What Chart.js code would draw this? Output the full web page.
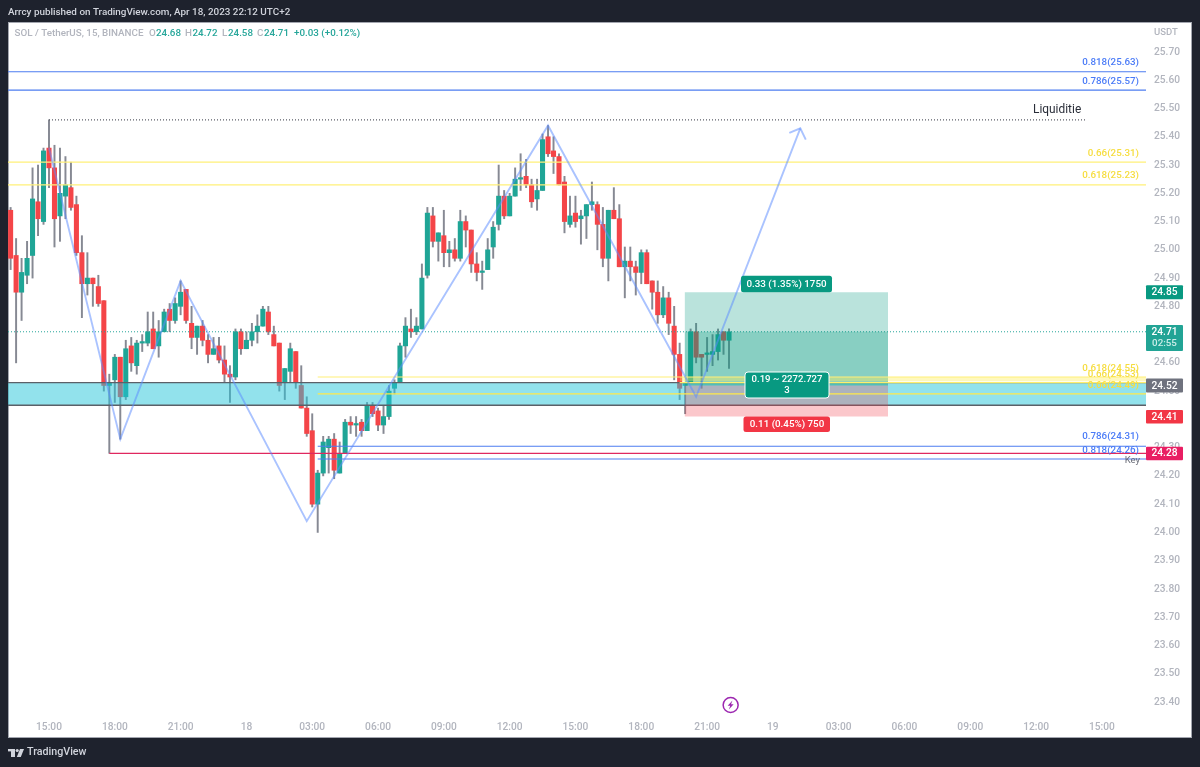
<!DOCTYPE html>
<html>
<head>
<meta charset="utf-8">
<title>SOL / TetherUS</title>
<style>html,body{margin:0;padding:0;background:#1e222d;overflow:hidden}canvas{display:block}</style>
<script src="https://cdn.jsdelivr.net/npm/chart.js@4/dist/chart.umd.min.js"></script>
</head>
<body>
<canvas id="c" width="1200" height="767" style="width:1200px;height:767px"></canvas>
<script>
const firstBar = -7;
const openValues = [25.14,24.98,24.85,24.91,24.98,25.17,25.10,
25.36,25.29,25.12,25.19,25.22,25.16,24.99,24.88,24.90,24.87,
24.82,24.52,24.54,24.62,24.48,24.66,24.59,24.67,24.67,24.72,
24.66,24.71,24.79,24.75,24.80,24.86,24.74,24.69,24.73,24.68,
24.63,24.66,24.61,24.56,24.55,24.71,24.65,24.68,24.71,24.73,
24.78,24.70,24.67,24.53,24.57,24.64,24.52,24.44,24.36,24.10,
24.21,24.30,24.33,24.21,24.28,24.39,24.38,24.39,24.36,24.45,
24.43,24.38,24.41,24.51,24.53,24.66,24.72,24.71,24.72,24.91,
25.12,25.03,25.05,24.99,25.00,24.97,25.10,25.07,24.95,24.92,
24.93,25.01,25.09,25.19,25.12,25.19,25.25,25.26,25.23,25.18,
25.21,25.40,25.35,25.33,25.24,25.09,25.13,25.11,25.12,25.16,
25.16,25.09,24.97,25.14,25.11,24.94,24.96,24.94,24.92,24.99,
24.89,24.85,24.77,24.83,24.73,24.63,24.52,24.53,24.71,24.63,
24.63,24.63,24.64,24.71,24.68];
const highValues = [25.15,25.04,24.97,25.03,25.29,25.30,25.36,
25.46,25.37,25.36,25.33,25.31,25.19,25.05,24.99,24.90,24.91,
24.82,24.56,24.63,24.62,24.68,24.69,24.68,24.70,24.78,24.78,
24.75,24.79,24.81,24.83,24.89,24.86,24.80,24.73,24.75,24.70,
24.69,24.69,24.66,24.59,24.72,24.72,24.71,24.74,24.77,24.80,
24.80,24.73,24.67,24.58,24.67,24.64,24.59,24.48,24.42,24.22,
24.34,24.34,24.35,24.32,24.40,24.41,24.41,24.40,24.46,24.46,
24.44,24.45,24.52,24.54,24.67,24.76,24.79,24.76,24.95,25.15,
25.15,25.06,25.14,25.03,25.04,25.14,25.12,25.07,24.99,24.96,
25.04,25.10,25.30,25.21,25.20,25.29,25.34,25.32,25.25,25.25,
25.41,25.44,25.40,25.34,25.26,25.19,25.19,25.14,25.16,25.24,
25.17,25.15,25.14,25.22,25.16,25.01,25.01,24.96,25.00,25.00,
24.89,24.89,24.87,24.85,24.80,24.67,24.53,24.72,24.74,24.63,
24.69,24.70,24.72,24.71,24.72];
const lowValues = [24.93,24.60,24.75,24.88,24.90,25.05,25.09,
25.22,25.01,25.03,25.11,25.14,24.98,24.76,24.84,24.80,24.80,
24.50,24.28,24.46,24.33,24.47,24.57,24.56,24.64,24.66,24.65,
24.62,24.71,24.71,24.74,24.77,24.74,24.65,24.63,24.66,24.60,
24.63,24.60,24.53,24.46,24.54,24.63,24.65,24.66,24.67,24.73,
24.70,24.66,24.50,24.47,24.53,24.51,24.44,24.34,24.09,24.00,
24.20,24.21,24.19,24.21,24.28,24.35,24.34,24.34,24.36,24.41,
24.36,24.35,24.40,24.49,24.53,24.62,24.69,24.70,24.72,24.90,
25.01,24.96,24.94,24.94,24.96,24.96,25.01,24.92,24.89,24.86,
24.93,24.97,25.07,25.11,25.12,25.19,25.21,25.22,25.15,25.14,
25.21,25.33,25.27,25.23,25.06,25.08,25.08,25.02,25.04,25.14,
25.00,24.94,24.89,25.11,24.94,24.83,24.89,24.84,24.88,24.88,
24.79,24.74,24.76,24.70,24.54,24.47,24.42,24.53,24.60,24.51,
24.57,24.59,24.61,24.63,24.58];
const closeValues = [24.97,24.85,24.92,24.97,25.18,25.11,25.35,
25.29,25.11,25.20,25.23,25.15,24.99,24.88,24.90,24.88,24.81,
24.52,24.53,24.62,24.48,24.65,24.60,24.67,24.67,24.71,24.65,
24.71,24.78,24.75,24.81,24.85,24.75,24.69,24.73,24.68,24.63,
24.65,24.61,24.56,24.55,24.71,24.65,24.68,24.71,24.73,24.79,
24.71,24.66,24.52,24.58,24.65,24.53,24.44,24.35,24.10,24.21,
24.32,24.33,24.22,24.28,24.39,24.38,24.38,24.36,24.45,24.42,
24.38,24.41,24.50,24.53,24.66,24.73,24.71,24.73,24.90,25.13,
25.03,25.06,24.99,25.00,24.97,25.10,25.07,24.95,24.92,24.92,
25.00,25.08,25.19,25.12,25.19,25.25,25.25,25.23,25.17,25.21,
25.39,25.34,25.33,25.23,25.10,25.12,25.10,25.12,25.16,25.17,
25.09,24.97,25.14,25.11,24.94,24.96,24.94,24.92,24.99,24.88,
24.85,24.77,24.83,24.74,24.63,24.51,24.53,24.71,24.62,24.62,
24.63,24.64,24.70,24.68,24.71];

const xTickBars = [0,12,24,36,48,60,72,84,96,108,120,132,144,156,168,180,192];
const xTickLabels = ['15:00','18:00','21:00','18','03:00','06:00','09:00','12:00','15:00','18:00','21:00','19','03:00','06:00','09:00','12:00','15:00'];
const yTickValues = [23.4,23.5,23.6,23.7,23.8,23.9,24.0,24.1,24.2,24.3,24.4,24.5,24.6,24.7,24.8,24.9,25.0,25.1,25.2,25.3,25.4,25.5,25.6,25.7];

const zigzagBars   = [0,13,24,47,91,118,137];
const zigzagPrices = [25.36,24.33,24.89,24.04,25.44,24.48,25.43];
const arrowBars    = [135,137,138];
const arrowPrices  = [25.414,25.43,25.39];

const upperFibBlue   = [25.63,25.565];
const upperFibYellow = [25.31,25.23];
const lowerFibBlue   = [24.305,24.26];
const lowerFibYellow = [24.55,24.49];
const keyLevel = 24.28, liquidityLevel = 25.46, lastPrice = 24.71;
const bandTop = 24.53, bandBottom = 24.45;
const entryPrice = 24.52, targetPrice = 24.85, stopPrice = 24.41;
const positionStartBar = 115.9, positionEndBar = 153;

const UP='#1fa596', DOWN='#f44548', WICK='#868993';
const BARS = openValues.map((_,k)=>k+firstBar);
const END = 201;
const LEFT = -7.476;

function hLine(a,b,v,color,width,order,dash){
  return {type:'line',data:[{x:a,y:v},{x:b,y:v}],borderColor:color,borderWidth:width,pointRadius:0,order:order,borderDash:dash||[],fill:false};
}
function area(a,b,top,bottom,color,order){
  return {type:'line',data:[{x:a,y:top},{x:b,y:top}],borderWidth:0,borderColor:'rgba(0,0,0,0)',pointRadius:0,order:order,fill:{value:bottom},backgroundColor:color};
}
const datasets = [
  {type:'bar',data:BARS.map((x,k)=>({x:x,y:[lowValues[k],highValues[k]]})),backgroundColor:WICK,barThickness:1.3,grouped:false,order:20,minBarLength:1},
  {type:'bar',data:BARS.map((x,k)=>({x:x,y:[openValues[k],closeValues[k]]})),
    backgroundColor:BARS.map((x,k)=>closeValues[k]>=openValues[k]?UP:DOWN),barThickness:4.4,grouped:false,order:19,minBarLength:1.5},
  hLine(LEFT,END,lastPrice,'#26a69a',1,18,[1,2]),
  area(LEFT,END,bandTop,bandBottom,'rgba(38,198,218,0.5)',15),
  hLine(LEFT,END,bandTop,'#5b6068',1.4,14),
  hLine(LEFT,END,bandBottom,'#5b6068',1.4,14),
  area(positionStartBar,positionEndBar,targetPrice,entryPrice,'rgba(8,153,129,0.28)',13),
  area(positionStartBar,positionEndBar,lastPrice,entryPrice,'rgba(8,153,129,0.28)',12),
  area(positionStartBar,positionEndBar,entryPrice,stopPrice,'rgba(242,54,69,0.28)',11),
  area(115,END,24.55,24.535,'rgba(255,238,90,0.4)',10),
  hLine(115,END,24.53,'#ffee6b',1.2,9),
  hLine(LEFT,END,upperFibBlue[0],'#4c7df0',1.1,8),
  hLine(LEFT,END,upperFibBlue[1],'#4c7df0',1.1,8),
  hLine(LEFT,END,upperFibYellow[0],'#fff078',1.2,8),
  hLine(LEFT,END,upperFibYellow[1],'#fff078',1.2,8),
  hLine(49,END,lowerFibBlue[0],'#4c7df0',1.1,8),
  hLine(49,END,lowerFibBlue[1],'#4c7df0',1.1,8),
  hLine(49,END,lowerFibYellow[0],'#fff078',1.2,8),
  hLine(49,END,lowerFibYellow[1],'#ffe94a',1.2,8),
  hLine(11,END,keyLevel,'#e0285f',1.2,7),
  hLine(0,189.1,liquidityLevel,'#5a5d66',1.2,7,[1,2]),
  {type:'line',data:zigzagBars.map((x,k)=>({x:x,y:zigzagPrices[k]})),borderColor:'rgba(92,140,255,0.52)',borderWidth:1.9,pointRadius:0,order:3,fill:false,tension:0},
  {type:'line',data:arrowBars.map((x,k)=>({x:x,y:arrowPrices[k]})),borderColor:'rgba(92,140,255,0.52)',borderWidth:1.9,pointRadius:0,order:3,fill:false,tension:0}
];

const FONT='Roboto, sans-serif';
function txt(ctx,s,x,y,color,size,align,weight){
  ctx.font=(weight?weight+' ':'')+size+'px '+FONT;
  ctx.fillStyle=color;ctx.textAlign=align||'left';ctx.textBaseline='middle';
  ctx.fillText(s,x,y);
}
function rr(ctx,x,y,w,h,r,fill,stroke){
  ctx.beginPath();ctx.roundRect(x,y,w,h,r);ctx.fillStyle=fill;ctx.fill();
  if(stroke){ctx.strokeStyle=stroke;ctx.lineWidth=1;ctx.stroke();}
}
const panel={
  id:'panel',
  beforeDraw(ch){
    const c=ch.ctx;
    c.save();
    c.fillStyle='#1e222d';c.fillRect(0,0,1200,767);
    c.fillStyle='#ffffff';c.fillRect(8,23,1184,715);
    c.strokeStyle='#a3a6af';c.lineWidth=1;c.strokeRect(8.5,22.5,1183,715);
    c.restore();
  },
  afterDraw(ch){
    const c=ch.ctx,X=ch.scales.x,Y=ch.scales.y;
    const py=v=>Y.getPixelForValue(v),px=i=>X.getPixelForValue(i);
    c.save();
    // header
    txt(c,'Arrcy published on TradingView.com, Apr 18, 2023 22:12 UTC+2',8,12.5,'#d1d4dc',9.9,'left',500);
    const S=9.8;
    txt(c,'SOL / TetherUS, 15, BINANCE',14.5,34,'#b2b5be',S,'left',500);
    const G='#26a69a',L='#b2b5be';
    txt(c,'O',149,34,L,S,'left',500);txt(c,'24.68',156,34,G,S,'left',500);
    txt(c,'H',185,34,L,S,'left',500);txt(c,'24.72',192.5,34,G,S,'left',500);
    txt(c,'L',222,34,L,S,'left',500);txt(c,'24.58',228,34,G,S,'left',500);
    txt(c,'C',257,34,L,S,'left',500);txt(c,'24.71',264,34,G,S,'left',500);
    txt(c,'+0.03 (+0.12%)',294,34,G,S,'left',500);
    txt(c,'USDT',1154,33,'#b2b5be',9.5,'left',500);
    // footer
    c.fillStyle='#d1d4dc';
    c.fillRect(8,749,7,2.4);c.fillRect(11,749,4,8);
    c.beginPath();c.arc(17.2,750.5,1.6,0,7);c.fill();
    c.beginPath();c.moveTo(20,749);c.lineTo(24,749);c.lineTo(20.8,757);c.lineTo(16.8,757);c.closePath();c.fill();
    txt(c,'TradingView',27,752.5,'#d1d4dc',10.7,'left',500);
    // fib labels
    const BL='#4a7bf7',YE='#f6dd3f',rx=1139,F=9.8;
    txt(c,'0.818(25.63)',rx,py(25.63)-9.5,BL,F,'right',500);
    txt(c,'0.786(25.57)',rx,py(25.57)-7.5,BL,F,'right',500);
    txt(c,'0.66(25.31)',rx,py(25.31)-9,YE,F,'right',500);
    txt(c,'0.618(25.23)',rx,py(25.23)-9,YE,F,'right',500);
    txt(c,'0.618(24.55)',rx,py(24.55)-8,YE,F,'right',500);
    txt(c,'0.66(24.53)',rx,py(24.53)-8,YE,F,'right',500);
    txt(c,'0.66(24.49)',rx,py(24.49)-8,YE,F,'right',500);
    txt(c,'0.786(24.31)',rx,py(24.31)-8,BL,F,'right',500);
    txt(c,'0.818(24.26)',rx,py(24.26)-8,BL,F,'right',500);
    txt(c,'Liquiditie',1033,py(liquidityLevel)-10,'#2a2e39',11.9);
    txt(c,'Key',1140,py(keyLevel)+7.5,'#6a6d78',9.5,'right');
    // position labels
    const GB='#089981',RB='#f23645';
    rr(c,741,py(targetPrice)-16.5,91,16.5,2.5,GB);
    txt(c,'0.33 (1.35%) 1750',786.5,py(targetPrice)-8,'#ffffff',9.8,'center',500);
    rr(c,745,372,84,26,3,GB,'#ffffff');
    txt(c,'0.19 ~ 2272.727',787,380,'#ffffff',9.6,'center',500);
    txt(c,'3',787,390.5,'#ffffff',9.6,'center',500);
    rr(c,743.5,py(stopPrice),86.5,15.5,2.5,RB);
    txt(c,'0.11 (0.45%) 750',787,py(stopPrice)+8,'#ffffff',9.8,'center',500);
    // price-axis labels
    const bx=1146,bw=37,P=10.2;
    rr(c,bx,py(targetPrice)-7,bw,14,1,GB);txt(c,'24.85',bx+bw/2,py(targetPrice)+0.5,'#ffffff',P,'center',500);
    rr(c,bx,325,bw,26,1,'#22a495');txt(c,'24.71',bx+bw/2,332.5,'#ffffff',P,'center',500);txt(c,'02:55',bx+bw/2,343.5,'#cdeee9',9.8,'center',500);
    rr(c,bx,py(entryPrice)-7,bw,14,1,'#6f727e');txt(c,'24.52',bx+bw/2,py(entryPrice)+0.5,'#ffffff',P,'center',500);
    rr(c,bx,py(stopPrice)-6.5,bw,13.5,1,RB);txt(c,'24.41',bx+bw/2,py(stopPrice)+0.5,'#ffffff',P,'center',500);
    rr(c,bx,py(keyLevel)-6.5,bw,13.5,1,'#e91e63');txt(c,'24.28',bx+bw/2,py(keyLevel)+0.5,'#ffffff',P,'center',500);
    // session-break icon
    const ix=px(124.3),iy=705;
    c.strokeStyle='#9c27b0';c.lineWidth=1.5;c.beginPath();c.arc(ix,iy,7.5,0,7);c.stroke();
    c.fillStyle='#9c27b0';c.beginPath();c.moveTo(ix+1.8,iy-4.5);c.lineTo(ix-3,iy+0.8);c.lineTo(ix-0.4,iy+0.8);c.lineTo(ix-1.8,iy+4.5);c.lineTo(ix+3,iy-0.8);c.lineTo(ix+0.4,iy-0.8);c.closePath();c.fill();
    c.restore();
  }
};

new Chart(document.getElementById('c'),{
  type:'bar',
  data:{datasets},
  plugins:[panel],
  options:{
    responsive:false,animation:false,devicePixelRatio:1,
    layout:{padding:{left:8,top:23,right:8,bottom:29}},
    plugins:{legend:{display:false},tooltip:{enabled:false},title:{display:false}},
    scales:{
      x:{type:'linear',offset:false,min:LEFT,max:200.04,
        grid:{display:false,offset:false,drawTicks:false},border:{display:false},
        afterBuildTicks(s){s.ticks=xTickBars.map(v=>({value:v}));},
        afterFit(s){s.height=26;},
        ticks:{autoSkip:false,maxRotation:0,padding:9,color:'#b2b5be',font:{family:FONT,size:10.2,weight:'500'},
          callback(v,k){return xTickLabels[k];}}
      },
      y:{type:'linear',position:'right',min:23.3646,max:25.8026,
        grid:{display:false,drawTicks:false},border:{display:false},
        afterBuildTicks(s){s.ticks=yTickValues.map(v=>({value:v}));},
        afterFit(s){s.width=46;},
        ticks:{autoSkip:false,padding:8,color:'#b2b5be',font:{family:FONT,size:10.2,weight:'500'},
          callback(v){return Number(v).toFixed(2);}}
      }
    }
  }
});
</script>
</body>
</html>
